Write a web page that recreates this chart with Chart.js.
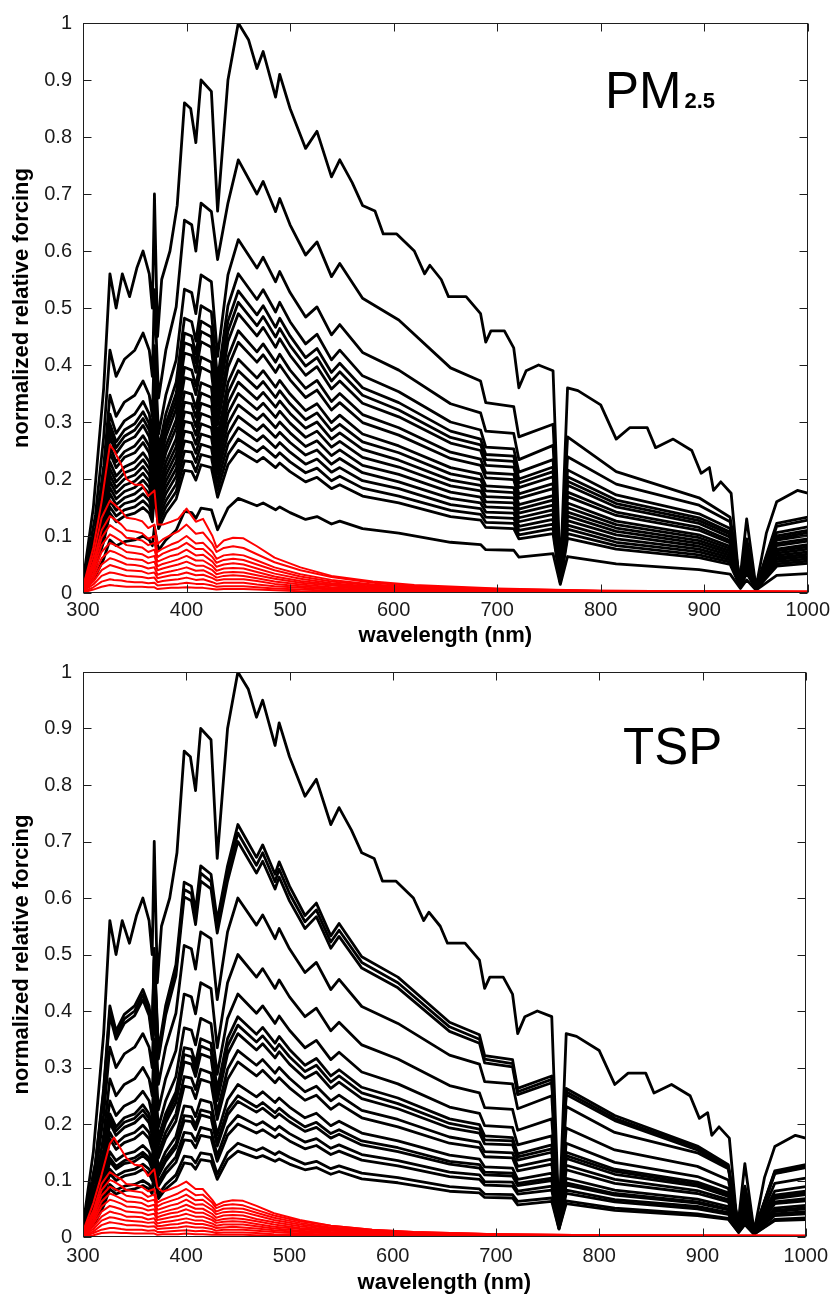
<!DOCTYPE html>
<html><head><meta charset="utf-8">
<script src="https://cdn.jsdelivr.net/npm/chart.js@4.4.1/dist/chart.umd.min.js"></script>
<style>
html,body{margin:0;padding:0;background:#fff;}
#wrap{position:relative;width:835px;height:1298px;overflow:hidden;}
canvas{position:absolute;left:0;}
</style></head><body>
<div id="wrap">
<canvas id="c1" width="835" height="649" style="top:0px"></canvas>
<canvas id="c2" width="835" height="649" style="top:649px"></canvas>
</div>
<script>
// ---------- axis ticks and labels ----------
const X_TICKS = [300,400,500,600,700,800,900,1000];
const X_TICK_LABELS = ['300','400','500','600','700','800','900','1000'];
const Y_TICKS = [0,0.1,0.2,0.3,0.4,0.5,0.6,0.7,0.8,0.9,1];
const Y_TICK_LABELS = ['0','0.1','0.2','0.3','0.4','0.5','0.6','0.7','0.8','0.9','1'];
const X_TITLE = 'wavelength (nm)';
const Y_TITLE = 'normalized relative forcing';
const PANEL1_MAIN = 'PM', PANEL1_SUB = '2.5';
const PANEL2_MAIN = 'TSP';

// ---------- wavelength grids (nm) ----------
const WL_TOP = [300,310,320,326,332,338,345,352,358,364,367,369,372,376,384,391,398,404,409,414,424,430,440,450,460,468,474,486,490,500,515,526,540,548,560,570,582,590,603,620,630,635,646,653,670,684,689,694,707,716,721,728,740,754,761,768,778,800,815,828,845,853,870,888,897,905,909,916,926,934,941,950,960,970,990,1000];
const WL_BLACK = [300,312,320,326,332,340,350,358,364,367,369,373,380,390,398,405,409,414,424,430,440,450,468,474,486,490,500,515,526,540,548,570,605,655,684,689,716,721,754,761,768,815,895,925,935,941,950,970,1000];
const WL_RED = [300,310,318,326,330,337,342,350,357,363,369,372,377,385,392,400,409,416,425,429,436,445,455,468,485,510,540,580,620,700,800,1000];

// ---------- uppermost black curve (same in both panels) ----------
const topLine = [0.02,0.15,0.36,0.56,0.50,0.56,0.52,0.57,0.60,0.56,0.50,0.70,0.45,0.55,0.60,0.68,0.86,0.85,0.79,0.90,0.88,0.67,0.90,1.00,0.97,0.92,0.95,0.87,0.91,0.85,0.78,0.81,0.73,0.76,0.72,0.68,0.67,0.63,0.63,0.60,0.56,0.575,0.55,0.52,0.52,0.49,0.44,0.46,0.46,0.43,0.36,0.39,0.40,0.39,0.03,0.36,0.355,0.33,0.27,0.29,0.29,0.255,0.27,0.25,0.21,0.22,0.18,0.195,0.175,0.015,0.13,0.01,0.105,0.16,0.18,0.175];

// ---------- PM2.5 panel: black curves ----------
const pmB1 = [0.015,0.137,0.274,0.426,0.38,0.41,0.426,0.456,0.426,0.38,0.532,0.342,0.426,0.502,0.654,0.646,0.60,0.684,0.669,0.585,0.684,0.76,0.70,0.722,0.669,0.692,0.646,0.593,0.616,0.555,0.578,0.517,0.479,0.395,0.372,0.334,0.327,0.274,0.296,0.03,0.274,0.213,0.167,0.133,0.018,0.095,0.01,0.122,0.133];
const pmB2 = [0.012,0.112,0.223,0.347,0.31,0.335,0.347,0.372,0.347,0.31,0.434,0.279,0.347,0.409,0.533,0.527,0.49,0.558,0.546,0.415,0.558,0.62,0.57,0.589,0.546,0.564,0.527,0.484,0.502,0.453,0.471,0.422,0.391,0.332,0.316,0.284,0.28,0.234,0.259,0.025,0.239,0.191,0.154,0.125,0.015,0.088,0.008,0.117,0.128];
const pmB3 = [0.011,0.101,0.202,0.314,0.28,0.302,0.314,0.336,0.314,0.28,0.392,0.252,0.314,0.37,0.482,0.476,0.442,0.504,0.493,0.375,0.504,0.56,0.515,0.532,0.493,0.51,0.476,0.437,0.454,0.409,0.426,0.381,0.353,0.30,0.286,0.256,0.253,0.212,0.234,0.025,0.216,0.172,0.139,0.113,0.015,0.079,0.008,0.106,0.116];
const pmB4 = [0.011,0.095,0.191,0.297,0.265,0.286,0.297,0.318,0.297,0.265,0.371,0.239,0.297,0.35,0.456,0.451,0.419,0.477,0.466,0.355,0.477,0.53,0.488,0.504,0.466,0.482,0.451,0.413,0.429,0.387,0.403,0.36,0.334,0.284,0.27,0.243,0.24,0.20,0.221,0.024,0.204,0.163,0.132,0.107,0.015,0.075,0.008,0.10,0.11];
const pmB5 = [0.01,0.092,0.184,0.286,0.255,0.275,0.286,0.306,0.286,0.255,0.357,0.23,0.286,0.337,0.439,0.434,0.403,0.459,0.449,0.342,0.459,0.51,0.469,0.485,0.449,0.464,0.434,0.398,0.413,0.372,0.388,0.347,0.321,0.273,0.26,0.234,0.231,0.193,0.213,0.024,0.196,0.157,0.127,0.103,0.014,0.072,0.008,0.096,0.106];
const pmB6 = [0.01,0.088,0.176,0.274,0.245,0.265,0.274,0.294,0.274,0.245,0.343,0.221,0.274,0.323,0.421,0.417,0.387,0.441,0.431,0.328,0.441,0.49,0.451,0.466,0.431,0.446,0.417,0.382,0.397,0.358,0.372,0.333,0.309,0.263,0.25,0.224,0.221,0.185,0.204,0.024,0.189,0.151,0.122,0.098,0.014,0.069,0.008,0.093,0.101];
const pmB7 = [0.009,0.083,0.166,0.258,0.23,0.248,0.258,0.276,0.258,0.23,0.322,0.207,0.258,0.304,0.396,0.391,0.363,0.414,0.405,0.308,0.414,0.46,0.423,0.437,0.405,0.419,0.391,0.359,0.373,0.336,0.35,0.313,0.29,0.247,0.235,0.211,0.208,0.174,0.192,0.023,0.177,0.142,0.115,0.092,0.014,0.064,0.008,0.087,0.095];
const pmB8 = [0.009,0.079,0.158,0.246,0.22,0.238,0.246,0.264,0.246,0.22,0.308,0.198,0.246,0.29,0.378,0.374,0.348,0.396,0.387,0.295,0.396,0.44,0.405,0.418,0.387,0.40,0.374,0.343,0.356,0.321,0.334,0.299,0.277,0.236,0.224,0.202,0.199,0.166,0.183,0.023,0.169,0.136,0.11,0.088,0.013,0.062,0.008,0.083,0.091];
const pmB9 = [0.008,0.074,0.148,0.23,0.205,0.221,0.23,0.246,0.23,0.205,0.287,0.185,0.23,0.271,0.353,0.349,0.324,0.369,0.361,0.275,0.369,0.41,0.377,0.39,0.361,0.373,0.349,0.32,0.332,0.299,0.312,0.279,0.258,0.22,0.209,0.188,0.185,0.155,0.171,0.022,0.158,0.126,0.102,0.082,0.013,0.057,0.008,0.077,0.085];
const pmB10 = [0.008,0.07,0.14,0.218,0.195,0.211,0.218,0.234,0.218,0.195,0.273,0.176,0.218,0.257,0.335,0.332,0.308,0.351,0.343,0.261,0.351,0.39,0.359,0.371,0.343,0.355,0.332,0.304,0.316,0.285,0.296,0.265,0.246,0.209,0.199,0.179,0.176,0.147,0.163,0.022,0.15,0.12,0.097,0.078,0.013,0.055,0.007,0.074,0.081];
const pmB11 = [0.007,0.067,0.133,0.207,0.185,0.20,0.207,0.222,0.207,0.185,0.259,0.167,0.207,0.244,0.318,0.315,0.292,0.333,0.326,0.248,0.333,0.37,0.34,0.352,0.326,0.337,0.315,0.289,0.30,0.27,0.281,0.252,0.233,0.198,0.189,0.169,0.167,0.14,0.154,0.021,0.142,0.114,0.092,0.074,0.012,0.052,0.007,0.07,0.077];
const pmB12 = [0.007,0.063,0.126,0.196,0.175,0.189,0.196,0.21,0.196,0.175,0.245,0.158,0.196,0.231,0.301,0.298,0.277,0.315,0.308,0.235,0.315,0.35,0.322,0.333,0.308,0.319,0.298,0.273,0.284,0.256,0.266,0.238,0.221,0.188,0.179,0.16,0.158,0.132,0.146,0.021,0.135,0.108,0.087,0.07,0.012,0.049,0.007,0.066,0.072];
const pmB13 = [0.007,0.059,0.119,0.185,0.165,0.178,0.185,0.198,0.185,0.165,0.231,0.149,0.185,0.218,0.284,0.281,0.261,0.297,0.29,0.221,0.297,0.33,0.304,0.314,0.29,0.30,0.281,0.257,0.267,0.241,0.251,0.224,0.208,0.177,0.168,0.151,0.149,0.125,0.138,0.02,0.127,0.102,0.082,0.066,0.012,0.046,0.007,0.062,0.068];
const pmB14 = [0.006,0.056,0.112,0.174,0.155,0.167,0.174,0.186,0.174,0.155,0.217,0.14,0.174,0.205,0.267,0.264,0.245,0.279,0.273,0.208,0.279,0.31,0.285,0.295,0.273,0.282,0.264,0.242,0.251,0.226,0.236,0.211,0.195,0.166,0.158,0.142,0.14,0.117,0.129,0.02,0.119,0.095,0.077,0.062,0.011,0.043,0.007,0.059,0.064];
const pmB15 = [0.006,0.052,0.104,0.162,0.145,0.157,0.162,0.174,0.162,0.145,0.203,0.131,0.162,0.191,0.249,0.247,0.229,0.261,0.255,0.194,0.261,0.29,0.267,0.276,0.255,0.264,0.247,0.226,0.235,0.212,0.22,0.197,0.183,0.155,0.148,0.133,0.131,0.11,0.121,0.019,0.112,0.089,0.072,0.058,0.011,0.041,0.007,0.055,0.06];
const pmB16 = [0.005,0.049,0.097,0.151,0.135,0.146,0.151,0.162,0.151,0.135,0.189,0.122,0.151,0.178,0.232,0.23,0.213,0.243,0.238,0.181,0.243,0.27,0.248,0.257,0.238,0.246,0.23,0.211,0.219,0.197,0.205,0.184,0.17,0.145,0.138,0.124,0.122,0.102,0.113,0.019,0.104,0.083,0.067,0.054,0.011,0.038,0.007,0.051,0.056];
const pmB17 = [0.005,0.045,0.09,0.14,0.125,0.135,0.14,0.15,0.14,0.125,0.175,0.113,0.14,0.165,0.215,0.213,0.198,0.225,0.22,0.168,0.225,0.25,0.23,0.238,0.22,0.228,0.213,0.195,0.203,0.183,0.19,0.17,0.158,0.134,0.128,0.115,0.113,0.095,0.104,0.018,0.096,0.077,0.062,0.05,0.01,0.035,0.006,0.047,0.052];
const pmB18 = [0.003,0.03,0.06,0.093,0.083,0.09,0.093,0.10,0.093,0.083,0.116,0.075,0.093,0.11,0.143,0.141,0.131,0.149,0.146,0.111,0.149,0.166,0.153,0.158,0.146,0.151,0.141,0.129,0.134,0.121,0.126,0.113,0.105,0.089,0.085,0.076,0.075,0.063,0.069,0.015,0.064,0.051,0.041,0.033,0.008,0.023,0.005,0.031,0.034];

// ---------- PM2.5 panel: red curves ----------
const pmR1 = [0.01,0.08,0.16,0.26,0.25,0.225,0.20,0.19,0.19,0.17,0.18,0.12,0.12,0.125,0.13,0.148,0.125,0.13,0.10,0.08,0.092,0.097,0.096,0.082,0.062,0.045,0.03,0.02,0.014,0.008,0.004,0.002];
const pmR2 = [0.012,0.066,0.132,0.162,0.156,0.144,0.132,0.13,0.126,0.114,0.12,0.086,0.094,0.102,0.108,0.12,0.104,0.106,0.086,0.072,0.079,0.082,0.079,0.068,0.054,0.04,0.028,0.018,0.012,0.007,0.004,0.002];
const pmR3 = [0.01,0.055,0.11,0.135,0.13,0.12,0.11,0.108,0.105,0.095,0.10,0.072,0.078,0.085,0.09,0.10,0.087,0.088,0.072,0.06,0.066,0.068,0.066,0.057,0.045,0.033,0.023,0.015,0.01,0.006,0.0035,0.002];
const pmR4 = [0.009,0.048,0.097,0.119,0.114,0.106,0.097,0.095,0.092,0.084,0.088,0.063,0.069,0.075,0.079,0.088,0.077,0.077,0.063,0.053,0.058,0.06,0.058,0.05,0.04,0.029,0.02,0.013,0.009,0.005,0.003,0.002];
const pmR5 = [0.008,0.042,0.084,0.103,0.099,0.091,0.084,0.082,0.08,0.072,0.076,0.055,0.059,0.065,0.068,0.076,0.066,0.067,0.055,0.046,0.05,0.052,0.05,0.043,0.034,0.025,0.017,0.011,0.008,0.005,0.003,0.002];
const pmR6 = [0.007,0.036,0.072,0.088,0.085,0.078,0.072,0.07,0.068,0.062,0.065,0.047,0.051,0.055,0.059,0.065,0.057,0.057,0.047,0.039,0.043,0.044,0.043,0.037,0.029,0.021,0.015,0.01,0.007,0.004,0.002,0.001];
const pmR7 = [0.006,0.03,0.061,0.074,0.072,0.066,0.061,0.059,0.058,0.052,0.055,0.04,0.043,0.047,0.05,0.055,0.048,0.048,0.04,0.033,0.036,0.037,0.036,0.031,0.025,0.018,0.013,0.008,0.006,0.003,0.002,0.001];
const pmR8 = [0.005,0.025,0.05,0.061,0.059,0.054,0.05,0.049,0.047,0.043,0.045,0.032,0.035,0.038,0.041,0.045,0.039,0.04,0.032,0.027,0.03,0.031,0.03,0.026,0.02,0.015,0.01,0.007,0.005,0.003,0.002,0.001];
const pmR9 = [0.004,0.02,0.04,0.049,0.047,0.043,0.04,0.039,0.038,0.034,0.036,0.026,0.028,0.031,0.032,0.036,0.031,0.032,0.026,0.022,0.024,0.024,0.024,0.021,0.016,0.012,0.008,0.005,0.004,0.002,0.001,0.001];
const pmR10 = [0.003,0.015,0.03,0.036,0.035,0.032,0.03,0.029,0.028,0.026,0.027,0.019,0.021,0.023,0.024,0.027,0.023,0.024,0.019,0.016,0.018,0.018,0.018,0.015,0.012,0.009,0.006,0.004,0.003,0.002,0.001,0.001];
const pmR11 = [0.002,0.01,0.02,0.024,0.023,0.022,0.02,0.019,0.019,0.017,0.018,0.013,0.014,0.015,0.016,0.018,0.016,0.016,0.013,0.011,0.012,0.012,0.012,0.01,0.008,0.006,0.004,0.003,0.002,0.001,0.001,0.001];
const pmR12 = [0.001,0.006,0.011,0.014,0.013,0.012,0.011,0.011,0.011,0.01,0.01,0.007,0.008,0.009,0.009,0.01,0.009,0.009,0.007,0.006,0.007,0.007,0.007,0.006,0.005,0.003,0.002,0.002,0.001,0.001,0.001,0.0005];

// ---------- TSP panel: black curves ----------
const tspB1 = [0.015,0.131,0.263,0.409,0.365,0.394,0.409,0.438,0.409,0.365,0.511,0.329,0.409,0.482,0.628,0.621,0.577,0.657,0.642,0.56,0.657,0.73,0.672,0.694,0.642,0.664,0.621,0.569,0.591,0.533,0.555,0.496,0.46,0.38,0.358,0.321,0.314,0.263,0.285,0.03,0.263,0.215,0.161,0.128,0.018,0.09,0.01,0.117,0.128];
const tspB2 = [0.015,0.129,0.257,0.40,0.358,0.386,0.40,0.429,0.40,0.358,0.50,0.322,0.40,0.472,0.615,0.608,0.565,0.644,0.629,0.549,0.644,0.715,0.658,0.68,0.629,0.651,0.608,0.558,0.579,0.522,0.543,0.486,0.45,0.372,0.35,0.315,0.307,0.257,0.279,0.03,0.257,0.21,0.158,0.125,0.017,0.088,0.01,0.115,0.125];
const tspB3 = [0.014,0.126,0.252,0.392,0.35,0.378,0.392,0.42,0.392,0.35,0.49,0.315,0.392,0.462,0.602,0.595,0.553,0.63,0.616,0.538,0.63,0.70,0.644,0.665,0.616,0.637,0.595,0.546,0.567,0.511,0.532,0.476,0.441,0.364,0.343,0.308,0.301,0.252,0.273,0.03,0.252,0.206,0.154,0.123,0.017,0.086,0.01,0.112,0.123];
const tspB4 = [0.012,0.108,0.216,0.336,0.30,0.324,0.336,0.36,0.336,0.30,0.42,0.27,0.336,0.396,0.516,0.51,0.474,0.54,0.528,0.42,0.54,0.60,0.552,0.57,0.528,0.546,0.51,0.468,0.486,0.438,0.456,0.408,0.378,0.322,0.306,0.275,0.271,0.227,0.25,0.025,0.231,0.185,0.149,0.121,0.015,0.085,0.008,0.113,0.124];
const tspB5 = [0.01,0.09,0.18,0.28,0.25,0.27,0.28,0.30,0.28,0.25,0.35,0.225,0.28,0.33,0.43,0.425,0.395,0.45,0.44,0.335,0.45,0.50,0.46,0.475,0.44,0.455,0.425,0.39,0.405,0.365,0.38,0.34,0.315,0.268,0.255,0.229,0.226,0.189,0.209,0.024,0.193,0.154,0.125,0.101,0.014,0.071,0.008,0.095,0.104];
const tspB6 = [0.009,0.077,0.155,0.241,0.215,0.232,0.241,0.258,0.241,0.215,0.301,0.194,0.241,0.284,0.37,0.366,0.34,0.387,0.378,0.288,0.387,0.43,0.396,0.409,0.378,0.391,0.366,0.335,0.348,0.314,0.327,0.292,0.271,0.23,0.219,0.197,0.194,0.163,0.179,0.022,0.166,0.132,0.107,0.086,0.013,0.06,0.008,0.081,0.089];
const tspB7 = [0.008,0.07,0.14,0.218,0.195,0.211,0.218,0.234,0.218,0.195,0.273,0.176,0.218,0.257,0.335,0.332,0.308,0.351,0.343,0.261,0.351,0.39,0.359,0.371,0.343,0.355,0.332,0.304,0.316,0.285,0.296,0.265,0.246,0.209,0.199,0.179,0.176,0.147,0.163,0.022,0.15,0.12,0.097,0.078,0.013,0.055,0.007,0.074,0.081];
const tspB8 = [0.008,0.068,0.135,0.21,0.188,0.203,0.21,0.225,0.21,0.188,0.263,0.169,0.21,0.248,0.323,0.319,0.296,0.338,0.33,0.251,0.338,0.375,0.345,0.356,0.33,0.341,0.319,0.293,0.304,0.274,0.285,0.255,0.236,0.201,0.191,0.172,0.17,0.142,0.156,0.021,0.144,0.116,0.093,0.075,0.012,0.053,0.007,0.071,0.078];
const tspB9 = [0.007,0.065,0.13,0.202,0.18,0.194,0.202,0.216,0.202,0.18,0.252,0.162,0.202,0.238,0.31,0.306,0.284,0.324,0.317,0.241,0.324,0.36,0.331,0.342,0.317,0.328,0.306,0.281,0.292,0.263,0.274,0.245,0.227,0.193,0.184,0.165,0.163,0.136,0.15,0.021,0.139,0.111,0.09,0.072,0.012,0.05,0.007,0.068,0.075];
const tspB10 = [0.007,0.059,0.119,0.185,0.165,0.178,0.185,0.198,0.185,0.165,0.231,0.149,0.185,0.218,0.284,0.281,0.261,0.297,0.29,0.221,0.297,0.33,0.304,0.314,0.29,0.30,0.281,0.257,0.267,0.241,0.251,0.224,0.208,0.177,0.168,0.151,0.149,0.125,0.138,0.02,0.127,0.102,0.082,0.066,0.012,0.046,0.007,0.062,0.068];
const tspB11 = [0.006,0.056,0.112,0.174,0.155,0.167,0.174,0.186,0.174,0.155,0.217,0.14,0.174,0.205,0.267,0.264,0.245,0.279,0.273,0.208,0.279,0.31,0.285,0.295,0.273,0.282,0.264,0.242,0.251,0.226,0.236,0.211,0.195,0.166,0.158,0.142,0.14,0.117,0.129,0.02,0.119,0.095,0.077,0.062,0.011,0.043,0.007,0.059,0.064];
const tspB12 = [0.005,0.049,0.097,0.151,0.135,0.146,0.151,0.162,0.151,0.135,0.189,0.122,0.151,0.178,0.232,0.23,0.213,0.243,0.238,0.181,0.243,0.27,0.248,0.257,0.238,0.246,0.23,0.211,0.219,0.197,0.205,0.184,0.17,0.145,0.138,0.124,0.122,0.102,0.113,0.019,0.104,0.083,0.067,0.054,0.011,0.038,0.007,0.051,0.056];
const tspB13 = [0.005,0.045,0.09,0.14,0.125,0.135,0.14,0.15,0.14,0.125,0.175,0.113,0.14,0.165,0.215,0.213,0.198,0.225,0.22,0.168,0.225,0.25,0.23,0.238,0.22,0.228,0.213,0.195,0.203,0.183,0.19,0.17,0.158,0.134,0.128,0.115,0.113,0.095,0.104,0.018,0.096,0.077,0.062,0.05,0.01,0.035,0.006,0.047,0.052];
const tspB14 = [0.005,0.043,0.086,0.134,0.12,0.13,0.134,0.144,0.134,0.12,0.168,0.108,0.134,0.158,0.206,0.204,0.19,0.216,0.211,0.161,0.216,0.24,0.221,0.228,0.211,0.218,0.204,0.187,0.194,0.175,0.182,0.163,0.151,0.129,0.122,0.11,0.108,0.091,0.10,0.018,0.092,0.074,0.06,0.048,0.01,0.034,0.006,0.045,0.05];
const tspB15 = [0.004,0.039,0.077,0.12,0.108,0.116,0.12,0.129,0.12,0.108,0.151,0.097,0.12,0.142,0.185,0.183,0.17,0.194,0.189,0.144,0.194,0.215,0.198,0.204,0.189,0.196,0.183,0.168,0.174,0.157,0.163,0.146,0.135,0.115,0.11,0.098,0.097,0.081,0.09,0.017,0.083,0.066,0.054,0.043,0.01,0.03,0.006,0.041,0.045];
const tspB16 = [0.004,0.036,0.072,0.112,0.10,0.108,0.112,0.12,0.112,0.10,0.14,0.09,0.112,0.132,0.172,0.17,0.158,0.18,0.176,0.134,0.18,0.20,0.184,0.19,0.176,0.182,0.17,0.156,0.162,0.146,0.152,0.136,0.126,0.107,0.102,0.092,0.09,0.076,0.083,0.016,0.077,0.062,0.05,0.04,0.009,0.028,0.006,0.038,0.041];
const tspB17 = [0.003,0.03,0.06,0.093,0.083,0.09,0.093,0.10,0.093,0.083,0.116,0.075,0.093,0.11,0.143,0.141,0.131,0.149,0.146,0.111,0.149,0.166,0.153,0.158,0.146,0.151,0.141,0.129,0.134,0.121,0.126,0.113,0.105,0.089,0.085,0.076,0.075,0.063,0.069,0.015,0.064,0.051,0.041,0.033,0.008,0.023,0.005,0.031,0.034];
const tspB18 = [0.003,0.027,0.055,0.085,0.076,0.082,0.085,0.091,0.085,0.076,0.106,0.068,0.085,0.10,0.131,0.129,0.12,0.137,0.134,0.102,0.137,0.152,0.14,0.144,0.134,0.138,0.129,0.119,0.123,0.111,0.116,0.103,0.096,0.081,0.078,0.07,0.069,0.057,0.063,0.014,0.059,0.047,0.038,0.031,0.008,0.022,0.005,0.029,0.031];

// ---------- TSP panel: red curves ----------
const tspR1 = [0.01,0.06,0.11,0.165,0.176,0.155,0.14,0.128,0.126,0.108,0.12,0.088,0.08,0.085,0.09,0.098,0.085,0.085,0.066,0.056,0.062,0.065,0.064,0.055,0.042,0.03,0.02,0.013,0.009,0.005,0.003,0.002];
const tspR2 = [0.009,0.047,0.094,0.115,0.11,0.102,0.094,0.092,0.089,0.081,0.085,0.061,0.066,0.072,0.077,0.085,0.074,0.075,0.061,0.051,0.056,0.058,0.056,0.048,0.038,0.028,0.02,0.013,0.009,0.005,0.003,0.002];
const tspR3 = [0.008,0.041,0.083,0.101,0.098,0.09,0.083,0.081,0.079,0.071,0.075,0.054,0.059,0.064,0.068,0.075,0.065,0.066,0.054,0.045,0.05,0.051,0.05,0.043,0.034,0.025,0.017,0.011,0.008,0.005,0.003,0.002];
const tspR4 = [0.007,0.036,0.073,0.089,0.086,0.079,0.073,0.071,0.069,0.063,0.066,0.048,0.051,0.056,0.059,0.066,0.057,0.058,0.048,0.04,0.044,0.045,0.044,0.038,0.03,0.022,0.015,0.01,0.007,0.004,0.002,0.001];
const tspR5 = [0.006,0.031,0.063,0.077,0.074,0.068,0.063,0.062,0.06,0.054,0.057,0.041,0.044,0.048,0.051,0.057,0.05,0.05,0.041,0.034,0.038,0.039,0.038,0.032,0.026,0.019,0.013,0.009,0.006,0.003,0.002,0.001];
const tspR6 = [0.005,0.027,0.054,0.066,0.064,0.059,0.054,0.053,0.051,0.047,0.049,0.035,0.038,0.042,0.044,0.049,0.043,0.043,0.035,0.029,0.032,0.033,0.032,0.028,0.022,0.016,0.011,0.007,0.005,0.003,0.002,0.001];
const tspR7 = [0.004,0.023,0.045,0.055,0.053,0.049,0.045,0.044,0.043,0.039,0.041,0.03,0.032,0.035,0.037,0.041,0.036,0.036,0.03,0.025,0.027,0.028,0.027,0.023,0.018,0.014,0.009,0.006,0.004,0.002,0.001,0.001];
const tspR8 = [0.003,0.018,0.036,0.045,0.043,0.04,0.036,0.036,0.035,0.031,0.033,0.024,0.026,0.028,0.03,0.033,0.029,0.029,0.024,0.02,0.022,0.022,0.022,0.019,0.015,0.011,0.008,0.005,0.003,0.002,0.001,0.001];
const tspR9 = [0.003,0.014,0.029,0.035,0.034,0.031,0.029,0.028,0.027,0.025,0.026,0.019,0.02,0.022,0.023,0.026,0.023,0.023,0.019,0.016,0.017,0.018,0.017,0.015,0.012,0.009,0.006,0.004,0.003,0.002,0.001,0.001];
const tspR10 = [0.002,0.01,0.021,0.026,0.025,0.023,0.021,0.021,0.02,0.018,0.019,0.014,0.015,0.016,0.017,0.019,0.017,0.017,0.014,0.011,0.013,0.013,0.013,0.011,0.009,0.006,0.004,0.003,0.002,0.001,0.001,0.001];
const tspR11 = [0.001,0.007,0.013,0.016,0.016,0.014,0.013,0.013,0.013,0.011,0.012,0.009,0.009,0.01,0.011,0.012,0.01,0.011,0.009,0.007,0.008,0.008,0.008,0.007,0.005,0.004,0.003,0.002,0.001,0.001,0.001,0.0005];
const tspR12 = [0.001,0.003,0.007,0.008,0.008,0.007,0.007,0.006,0.006,0.006,0.006,0.004,0.005,0.005,0.005,0.006,0.005,0.005,0.004,0.004,0.004,0.004,0.004,0.003,0.003,0.002,0.001,0.001,0.001,0.001,0.0005,0.0003];

// ---------- chart construction ----------
const FONT = "'Liberation Sans', Arial, Helvetica, sans-serif";

function series(xs, ys){ return ys.map((y, i) => ({x: xs[i], y: y})); }
function blackSet(xs, ys){
  return {data: series(xs, ys), borderColor: '#000000', borderWidth: 2.8, pointRadius: 0,
          borderJoinStyle: 'round', borderCapStyle: 'round', fill: false, tension: 0, order: 1};
}
function redSet(ys){
  return {data: series(WL_RED, ys), borderColor: '#ff0000', borderWidth: 2, pointRadius: 0,
          borderJoinStyle: 'round', borderCapStyle: 'round', fill: false, tension: 0, order: 0};
}

const framePlugin = {
  id: 'frame',
  afterDatasetsDraw(chart){
    const {ctx, chartArea: a, scales} = chart;
    const xs = scales.x, ys = scales.y;
    const L = Math.round(a.left) + 0.5, R = Math.round(a.right) - 0.5;
    const T = Math.round(a.top) + 0.5, B = Math.round(a.bottom) - 0.5;
    ctx.save();
    ctx.strokeStyle = '#1e1e1e';
    ctx.lineWidth = 1;
    ctx.strokeRect(L, T, R - L, B - T);
    ctx.beginPath();
    X_TICKS.forEach(v => {
      const px = Math.round(xs.getPixelForValue(v)) + 0.5;
      ctx.moveTo(px, B); ctx.lineTo(px, B - 8);
      ctx.moveTo(px, T); ctx.lineTo(px, T + 8);
    });
    Y_TICKS.forEach(v => {
      const py = Math.round(ys.getPixelForValue(v)) + 0.5;
      ctx.moveTo(L, py); ctx.lineTo(L + 8, py);
      ctx.moveTo(R, py); ctx.lineTo(R - 8, py);
    });
    ctx.stroke();
    ctx.restore();
  }
};

function labelPlugin(main, sub, x, yBase){
  return {
    id: 'panelLabel',
    afterDraw(chart){
      const ctx = chart.ctx;
      ctx.save();
      ctx.fillStyle = '#000';
      ctx.textAlign = 'left';
      ctx.textBaseline = 'alphabetic';
      ctx.font = '51px ' + FONT;
      ctx.fillText(main, x, yBase);
      if (sub) {
        const w = ctx.measureText(main).width;
        ctx.font = 'bold 22px ' + FONT;
        ctx.fillText(sub, x + w + 3, yBase);
      }
      ctx.restore();
    }
  };
}

function makeChart(id, datasets, cfg){
  return new Chart(document.getElementById(id), {
    type: 'line',
    data: {datasets: datasets},
    options: {
      responsive: false, animation: false, devicePixelRatio: 1, events: [],
      layout: {padding: {top: cfg.padTop, right: 24, bottom: 0, left: 0}},
      plugins: {legend: {display: false}, tooltip: {enabled: false}},
      scales: {
        x: {
          type: 'linear', min: 300, max: 1000,
          afterBuildTicks: s => { s.ticks = X_TICKS.map(v => ({value: v})); },
          afterFit: s => { s.height = cfg.xAxisH; },
          grid: {display: false, drawTicks: false}, border: {display: false},
          ticks: {autoSkip: false, maxRotation: 0, padding: cfg.xTickPad, color: '#1a1a1a',
                  font: {family: FONT, size: 20}, callback: (v, i) => X_TICK_LABELS[i]},
          title: {display: true, text: X_TITLE, color: '#000',
                  font: {family: FONT, size: 22, weight: 'bold'}, padding: {top: 0, bottom: cfg.xTitlePad}}
        },
        y: {
          type: 'linear', min: 0, max: 1,
          afterBuildTicks: s => { s.ticks = Y_TICKS.map(v => ({value: v})); },
          afterFit: s => { s.width = 83; },
          grid: {display: false, drawTicks: false}, border: {display: false},
          ticks: {autoSkip: false, padding: 11, color: '#1a1a1a',
                  font: {family: FONT, size: 20}, callback: (v, i) => Y_TICK_LABELS[i]},
          title: {display: true, text: Y_TITLE, color: '#000',
                  font: {family: FONT, size: 22, weight: 'bold'}, padding: {top: 9, bottom: 0}}
        }
      }
    },
    plugins: [framePlugin, labelPlugin(cfg.main, cfg.sub, cfg.labelX, cfg.labelY)]
  });
}

const pmBlack = [pmB1,pmB2,pmB3,pmB4,pmB5,pmB6,pmB7,pmB8,pmB9,pmB10,pmB11,pmB12,pmB13,pmB14,pmB15,pmB16,pmB17,pmB18];
const pmRed = [pmR1,pmR2,pmR3,pmR4,pmR5,pmR6,pmR7,pmR8,pmR9,pmR10,pmR11,pmR12];
const tspBlack = [tspB1,tspB2,tspB3,tspB4,tspB5,tspB6,tspB7,tspB8,tspB9,tspB10,tspB11,tspB12,tspB13,tspB14,tspB15,tspB16,tspB17,tspB18];
const tspRed = [tspR1,tspR2,tspR3,tspR4,tspR5,tspR6,tspR7,tspR8,tspR9,tspR10,tspR11,tspR12];

const ds1 = [blackSet(WL_TOP, topLine)]
  .concat(pmBlack.map(a => blackSet(WL_BLACK, a)))
  .concat(pmRed.map(a => redSet(a)));
const ds2 = [blackSet(WL_TOP, topLine)]
  .concat(tspBlack.map(a => blackSet(WL_BLACK, a)))
  .concat(tspRed.map(a => redSet(a)));

makeChart('c1', ds1, {padTop: 21, xAxisH: 56, xTickPad: 5, xTitlePad: 0, main: PANEL1_MAIN, sub: PANEL1_SUB, labelX: 605, labelY: 108});
makeChart('c2', ds2, {padTop: 17, xAxisH: 61, xTickPad: 7, xTitlePad: 2, main: PANEL2_MAIN, sub: null, labelX: 623, labelY: 115});
</script>
</body></html>
